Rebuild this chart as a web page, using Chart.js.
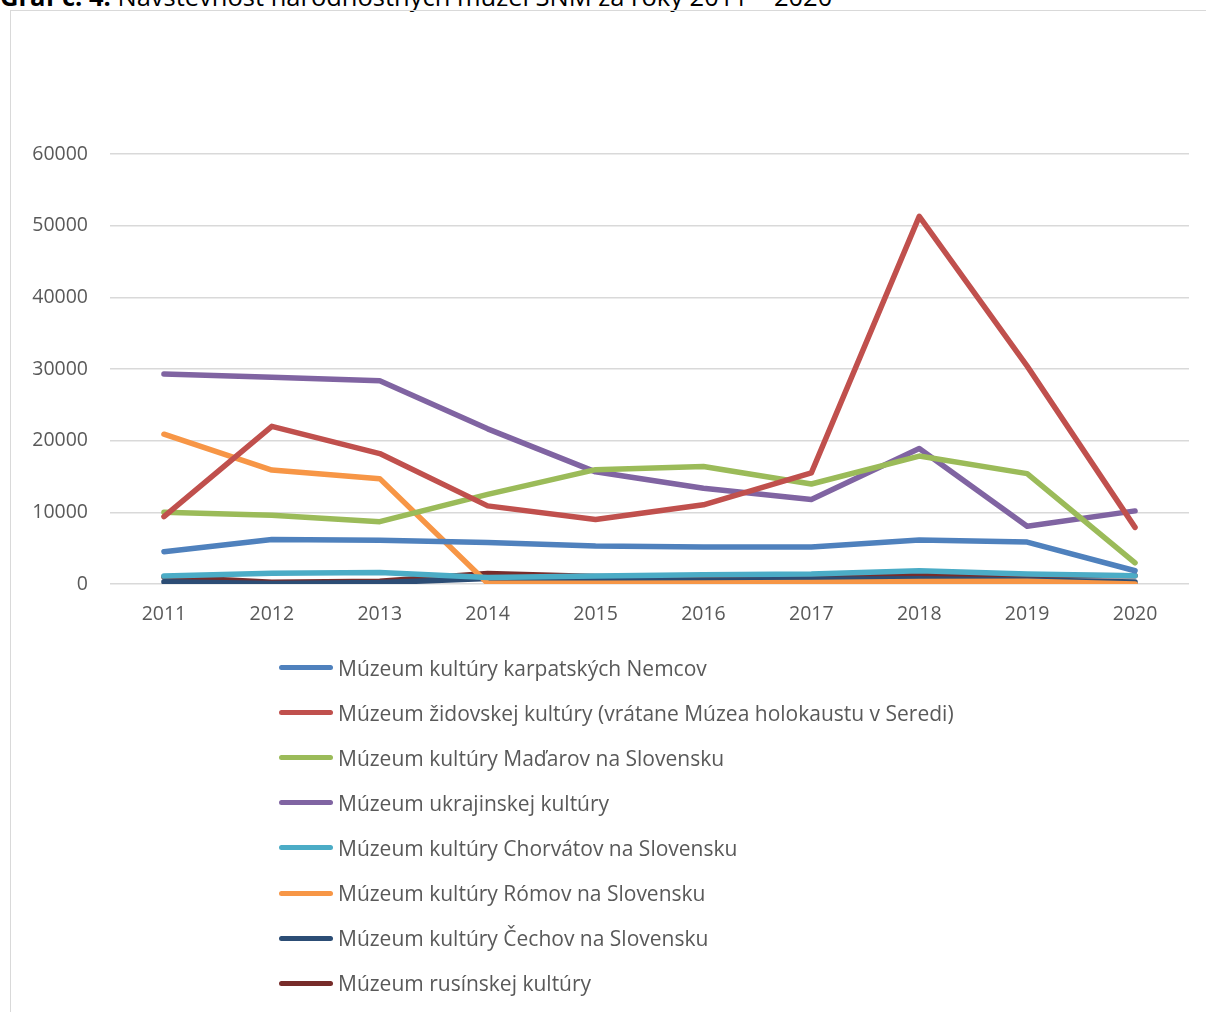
<!DOCTYPE html>
<html>
<head>
<meta charset="utf-8">
<script src="https://cdn.jsdelivr.net/npm/chart.js@4"></script>
<style>
html,body{margin:0;padding:0;background:#fff;overflow:hidden;}
body{width:1206px;height:1012px;position:relative;font-family:"Open Sans",sans-serif;}
#title{position:absolute;left:0;top:-21px;font-size:25.5px;color:#000;white-space:nowrap;font-family:"Open Sans",sans-serif;}
#frame{position:absolute;left:10px;top:10px;width:1210px;height:1010px;border:1px solid #D9D9D9;box-sizing:border-box;}
#wrap{position:absolute;left:0;top:0;width:1206px;height:1012px;}
#legend{position:absolute;left:279px;top:645px;}
.li{height:45.1px;display:flex;align-items:center;font-size:21px;color:#595959;white-space:nowrap;}
.sw{width:54px;height:5px;border-radius:3px;margin-right:5px;}
</style>
</head>
<body>
<div id="title"><b>Graf č. 4:</b> Návštevnosť národnostných múzeí SNM za roky 2011 – 2020</div>
<div id="frame"></div>
<div id="wrap"><canvas id="c" width="1206" height="1012"></canvas></div>
<div id="legend"></div>
<script>
const years = ["2011","2012","2013","2014","2015","2016","2017","2018","2019","2020"];
const yTicks = [0,10000,20000,30000,40000,50000,60000];

const nemcov    = [4500, 6200, 6100, 5800, 5300, 5150, 5150, 6150, 5850, 1850];
const zidovskej = [9400, 22000, 18200, 10900, 9000, 11050, 15500, 51300, 30400, 7900];
const madarov   = [10000, 9600, 8700, 12500, 15950, 16400, 13950, 17850, 15400, 2950];
const ukrajinskej = [29300, 28850, 28350, 21650, 15650, 13350, 11800, 18900, 8050, 10200];
const chorvatov = [1100, 1500, 1600, 900, 1100, 1300, 1400, 1850, 1400, 1150];
const romov     = [20900, 15900, 14700, 100, 100, 150, 200, 350, 400, 0];
const cechov    = [300, 60, 200, 750, 500, 500, 650, 750, 550, 280];
const rusinskej = [1000, 230, 370, 1450, 1050, 950, 1100, 1400, 1200, 1150];

const names = [
  "Múzeum kultúry karpatských Nemcov",
  "Múzeum židovskej kultúry (vrátane Múzea holokaustu v Seredi)",
  "Múzeum kultúry Maďarov na Slovensku",
  "Múzeum ukrajinskej kultúry",
  "Múzeum kultúry Chorvátov na Slovensku",
  "Múzeum kultúry Rómov na Slovensku",
  "Múzeum kultúry Čechov na Slovensku",
  "Múzeum rusínskej kultúry"
];
const colors = ["#4F81BD","#C0504D","#9BBB59","#8064A2","#4BACC6","#F79646","#2C4D75","#772C2A"];
const series = [nemcov, zidovskej, madarov, ukrajinskej, chorvatov, romov, cechov, rusinskej];

const datasets = series.map((d,i)=>({
  label: names[i], data: d, borderColor: colors[i], backgroundColor: colors[i],
  borderWidth: 5.5, pointRadius: 0, tension: 0, fill: false,
  borderCapStyle: 'round', borderJoinStyle: 'round'
}));

const tickFont = {family: "'Open Sans', sans-serif", size: 19.5};
new Chart(document.getElementById('c'), {
  type: 'line',
  data: {labels: years, datasets},
  options: {
    responsive: false, animation: false,
    layout: {padding: {top: 154, right: 17, bottom: 368, left: 0}},
    plugins: {legend: {display: false}, tooltip: {enabled: false}},
    scales: {
      x: {
        offset: true,
        grid: {display: false, drawTicks: false},
        border: {display: false},
        ticks: {color: '#595959', font: tickFont, padding: 19, maxRotation: 0},
        afterFit: s => { s.height = 60; }
      },
      y: {
        min: 0, max: 60000,
        afterBuildTicks: s => { s.ticks = yTicks.map(v=>({value:v})); },
        grid: {color: '#D9D9D9', lineWidth: 1.5, drawTicks: false},
        border: {display: false},
        ticks: {color: '#595959', font: tickFont, padding: 22, callback: v => String(v)},
        afterFit: s => { s.width = 110; }
      }
    }
  }
});

const lg = document.getElementById('legend');
names.forEach((n,i)=>{
  const d = document.createElement('div'); d.className='li';
  const s = document.createElement('div'); s.className='sw'; s.style.background = colors[i];
  const t = document.createElement('span'); t.textContent = n;
  d.appendChild(s); d.appendChild(t); lg.appendChild(d);
});
</script>
</body>
</html>
